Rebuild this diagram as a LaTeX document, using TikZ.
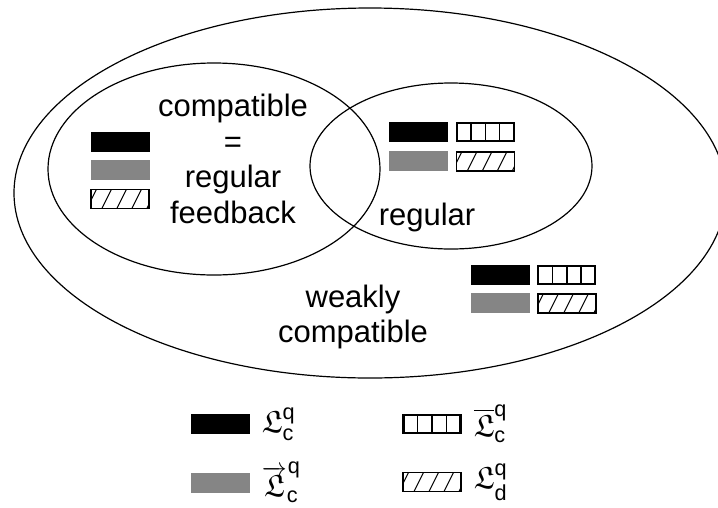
\documentclass[tikz,border=0pt]{standalone}
\usepackage{amsmath,amssymb}
\usepackage{fontspec}
\setmainfont{Liberation Sans}
\usetikzlibrary{positioning}
\DeclareFontFamily{U}{bigfrak}{}
\DeclareFontShape{U}{bigfrak}{m}{n}{<-> eufm10}{}
\newcommand{\FrakL}{\text{\usefont{U}{bigfrak}{m}{n}L}}

\begin{document}
\begin{tikzpicture}[
  x=1pt, y=-1pt,
  every node/.style={font=\fontsize{31}{35.5}\selectfont},
  node distance=8pt,
  set/.style={line width=1.2pt},
  swatch/.style={rectangle,inner sep=0pt,minimum width=59pt,minimum height=20pt},
  blackbox/.style={swatch,fill=black},
  greybox/.style={swatch,fill=black!48},
  barbox/.style={swatch,draw,line width=2.2pt,minimum width=57pt,minimum height=18pt,
    path picture={\foreach \k in {1,2,3}
      \draw[line width=1.4pt] ([xshift=\k*14.25pt]path picture bounding box.south west) -- ([xshift=\k*14.25pt]path picture bounding box.north west);}},
  hatchbox/.style={swatch,draw,line width=1.3pt,minimum width=58pt,minimum height=19pt,
    path picture={\foreach \k in {0,...,4}
      \draw[line width=1pt] ([xshift=\k*15pt-4pt]path picture bounding box.south west) -- ++(10pt,20pt);}},
  legtext/.style={inner sep=0pt}
]
\useasboundingbox (0,0) rectangle (718,507);

% the three sets
\draw[set] (370,193) ellipse [x radius=356, y radius=185];
\draw[set] (214,169) ellipse [x radius=166, y radius=106];
\draw[set] (451,166) ellipse [x radius=141, y radius=83];

\node[align=center] (cfeed) at (233,159) {compatible\\=\\regular\\feedback};
\node (reg) at (427,217) {regular};
\node[align=center] (weak) at (353,317) {weakly\\compatible};

% compatible = regular feedback
\node[blackbox] (cfblack) at (120,142) {};
\node[greybox, below=of cfblack] (cfgrey) {};
\node[hatchbox, below=of cfgrey] (cfhatch) {};

% regular
\node[blackbox] (rgblack) at (418,132) {};
\node[barbox, right=of rgblack] (rgbars) {};
\node[greybox, below=9pt of rgblack] (rggrey) {};
\node[hatchbox, right=of rggrey] (rghatch) {};

% weakly compatible
\node[blackbox] (wkblack) at (500.5,275) {};
\node[barbox, right=7pt of wkblack] (wkbars) {};
\node[greybox, below=8pt of wkblack] (wkgrey) {};
\node[hatchbox, right=7pt of wkgrey] (wkhatch) {};

% Legend below
\node[blackbox] (lgblack) at (220,424) {};
\node[legtext, right=12pt of lgblack] (lgLc) {$\FrakL^{\text{q}}_{\text{c}}$};
\node[greybox] (lggrey) at (220,482.5) {};
\node[legtext, right=12pt of lggrey] (lgLv) {${\overrightarrow{\FrakL}}^{\kern1pt\text{q}}_{\text{c}}$};
\node[barbox] (lgbars) at (432,424) {};
\node[legtext, right=12pt of lgbars] (lgLo) {$\overline{\FrakL}^{\text{q}}_{\text{c}}$};
\node[hatchbox] (lghatch) at (432,482) {};
\node[legtext, right=12pt of lghatch] (lgLd) {$\FrakL^{\text{q}}_{\text{d}}$};
\end{tikzpicture}
\end{document}
